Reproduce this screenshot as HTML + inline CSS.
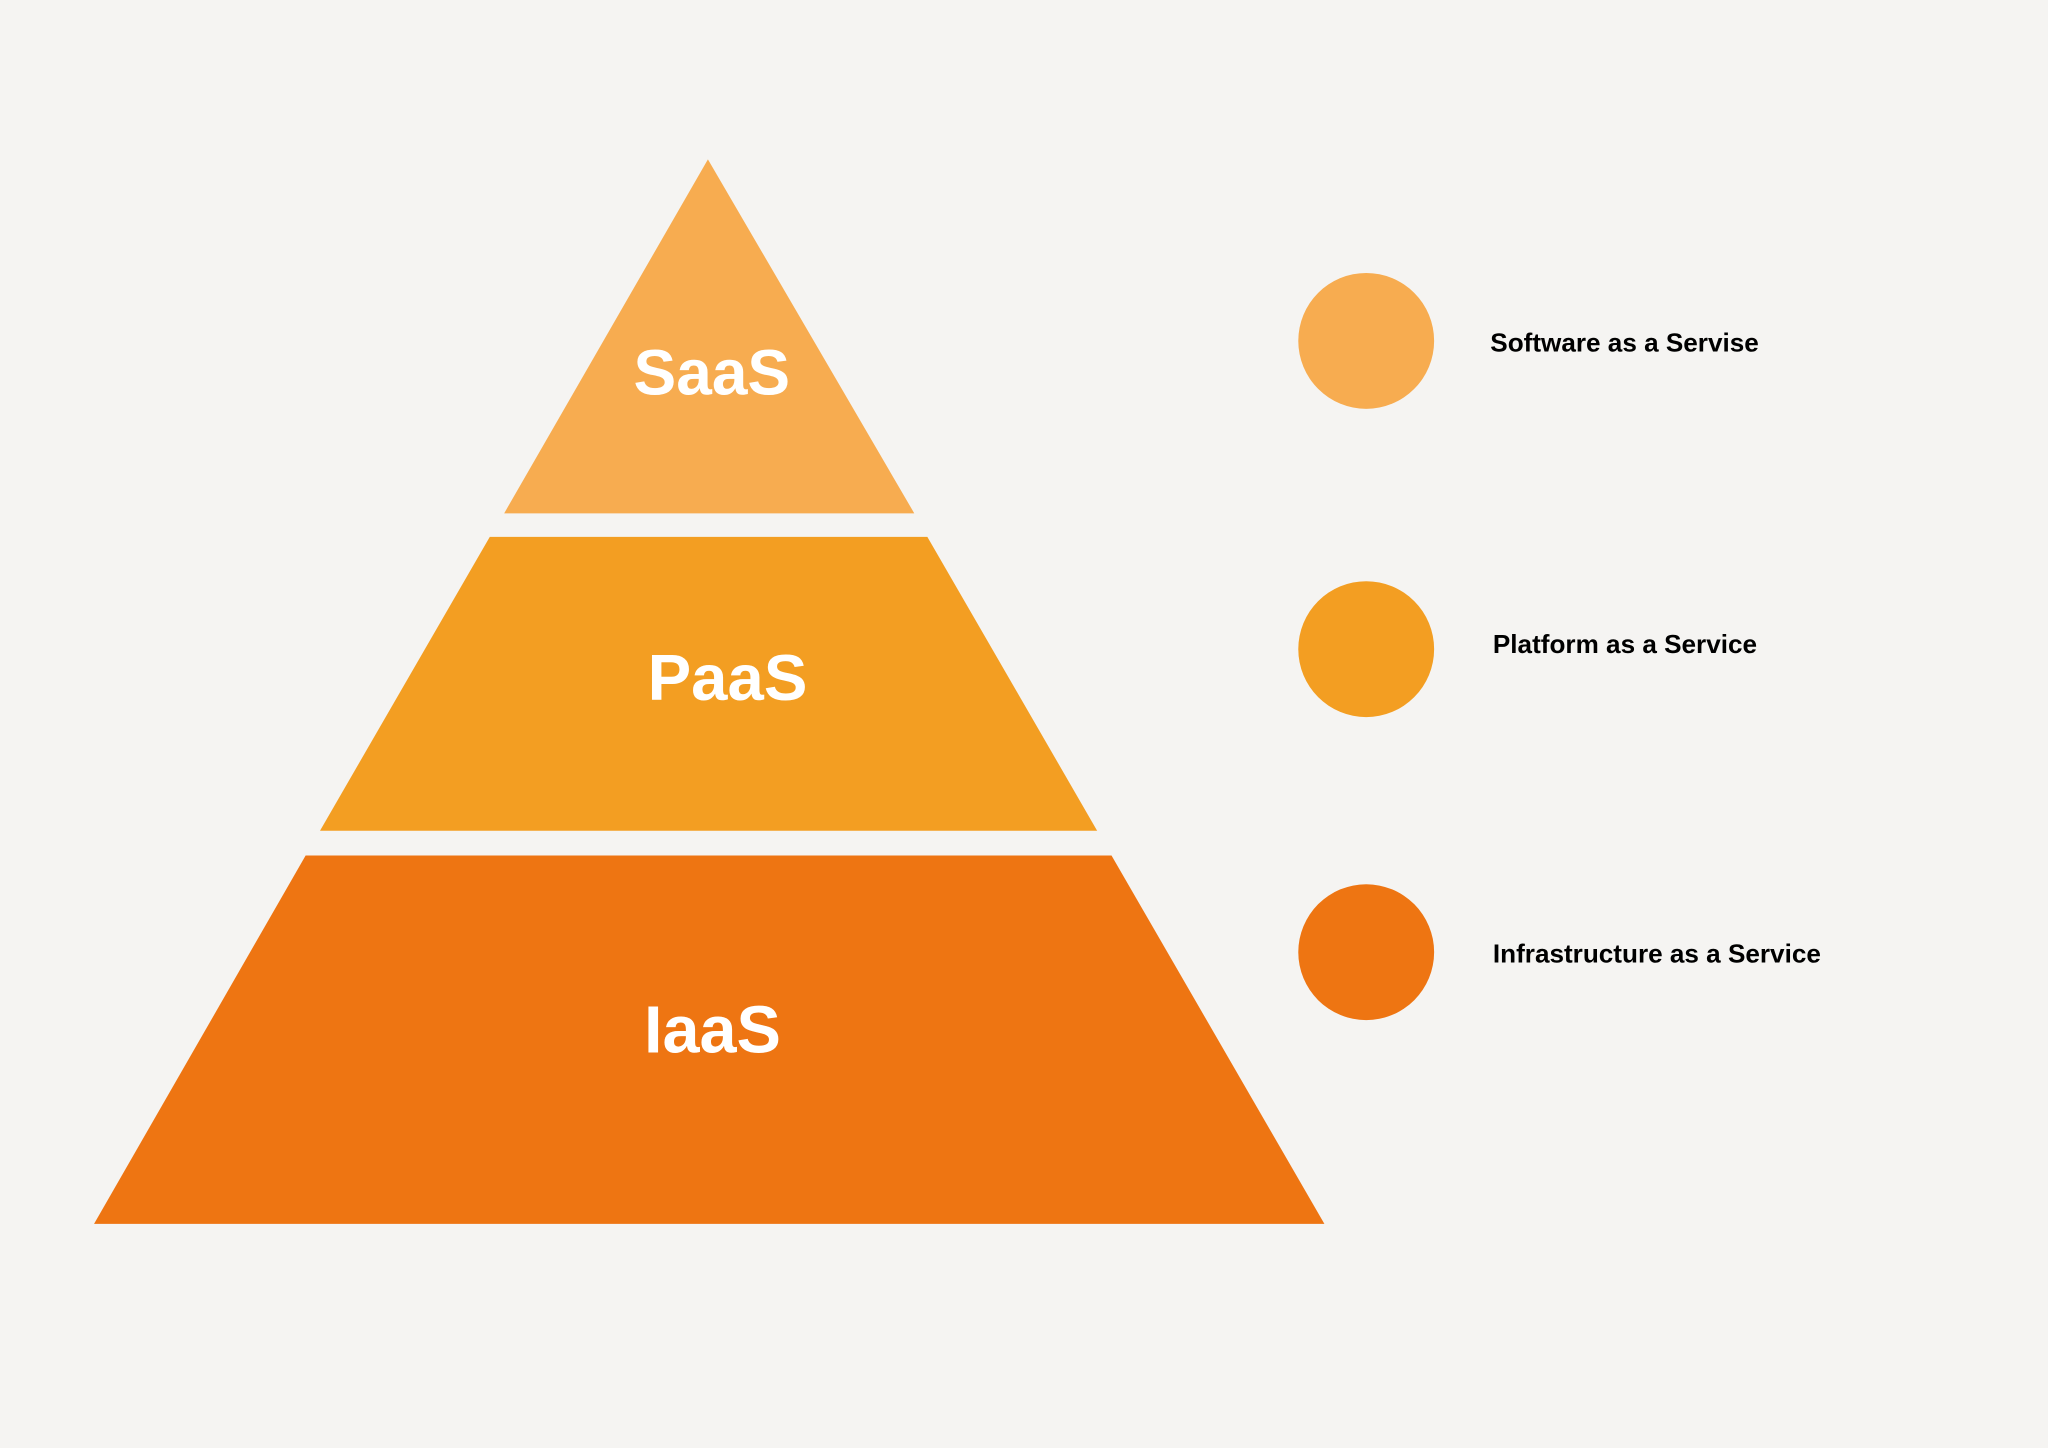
<!DOCTYPE html>
<html><head><meta charset="utf-8"><style>
html,body{margin:0;padding:0;background:#f5f4f2;}
svg{display:block;}
text{font-family:"Liberation Sans",sans-serif;font-weight:bold;}
</style></head><body>
<svg width="2048" height="1448" viewBox="0 0 1568 1108.6" preserveAspectRatio="none" xmlns="http://www.w3.org/2000/svg">
<rect width="1568" height="1108.6" fill="#f5f4f2"/>
<polygon points="542,122 700,393 386,393" fill="#f7ac50"/>
<polygon points="375,411 710,411 840,636 245,636" fill="#f39e22"/>
<polygon points="234,655 851,655 1014,937 72,937" fill="#ee7512"/>
<text x="545" y="302" font-size="49" fill="#fff" text-anchor="middle">SaaS</text>
<text x="557" y="536" font-size="50" fill="#fff" text-anchor="middle">PaaS</text>
<text x="545.5" y="806" font-size="51" fill="#fff" text-anchor="middle">IaaS</text>
<circle cx="1046" cy="261" r="52" fill="#f7ac50"/>
<circle cx="1046" cy="497" r="52" fill="#f39e22"/>
<circle cx="1046" cy="729" r="52" fill="#ee7512"/>
<text x="1141" y="269" font-size="20" fill="#000">Software as a Servise</text>
<text x="1143" y="500" font-size="20" fill="#000">Platform as a Service</text>
<text x="1143" y="737" font-size="20" fill="#000">Infrastructure as a Service</text>
</svg>
</body></html>
